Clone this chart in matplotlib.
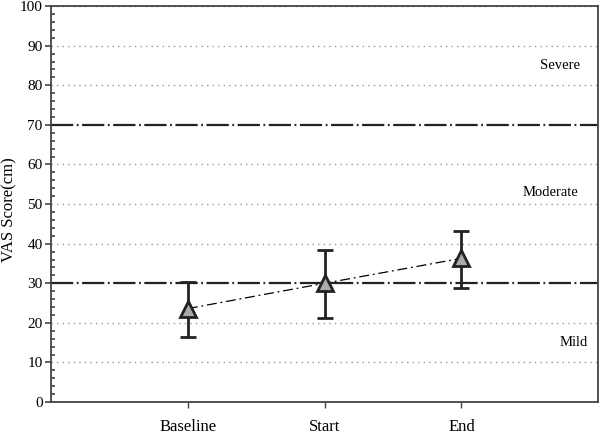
import matplotlib
matplotlib.use('Agg')
import matplotlib.pyplot as plt
import numpy as np

categories = ['Baseline', 'Start', 'End']
means = [23.6, 30.0, 36.3]
lower = [16.4, 21.2, 28.7]
upper = [30.2, 38.3, 43.3]
thresholds = [30, 70]
zones = ['Severe', 'Moderate', 'Mild']
zone_y = [85, 53, 15]
zone_x = [3.72, 3.65, 3.82]

plt.rcParams['font.family'] = ['Liberation Serif', 'DejaVu Serif']

fig = plt.figure(figsize=(6, 4.37), dpi=100)
ax = fig.add_axes([0.085, 0.08, 0.912, 0.906])

x = np.arange(1, len(categories) + 1)
m = np.array(means)
yerr = [m - np.array(lower), np.array(upper) - m]

for g in range(10, 101, 10):
    if g not in thresholds:
        ax.axhline(g, color='#999999', lw=1, ls=(0, (1, 3)), zorder=1)
for t in thresholds:
    ax.axhline(t, color='#222222', lw=1.6, ls=(0, (10, 1.6, 0.8, 1.6)), zorder=2)

ax.plot(x, m, color='black', lw=0.9, ls=(0, (8, 3, 1.5, 3)), zorder=3)
ax.errorbar(x, m, yerr=yerr, fmt='none', ecolor='#222222', elinewidth=2,
            capsize=6, capthick=2, zorder=4)
ax.plot(x, m, ls='none', marker='^', ms=11, mfc='#aaaaaa', mec='#222222',
        mew=2, zorder=5)

for lab, yy, xx in zip(zones, zone_y, zone_x):
    ax.text(xx, yy, lab, ha='center', va='center', fontsize=10.5)

ax.set_xlim(0, 4)
ax.set_ylim(0, 100)
ax.set_xticks(x)
ax.set_xticklabels(categories, fontsize=12)
ax.set_yticks(range(0, 101, 10))
ax.set_yticks(range(0, 101, 2), minor=True)
ax.tick_params(axis='y', labelsize=11, direction='out', length=4, width=1.2,
               color='#444444', pad=2)
ax.tick_params(axis='y', which='minor', direction='in', length=3, width=1.2,
               color='#444444')
ax.tick_params(axis='x', direction='out', length=4, width=1, color='#444444', pad=8)
ax.set_ylabel('VAS Score(cm)', fontsize=12)
ax.yaxis.set_label_coords(-0.062, 0.485)
for s in ax.spines.values():
    s.set_color('#444444')
    s.set_linewidth(1.3)

fig.savefig('out.png', dpi=100)
